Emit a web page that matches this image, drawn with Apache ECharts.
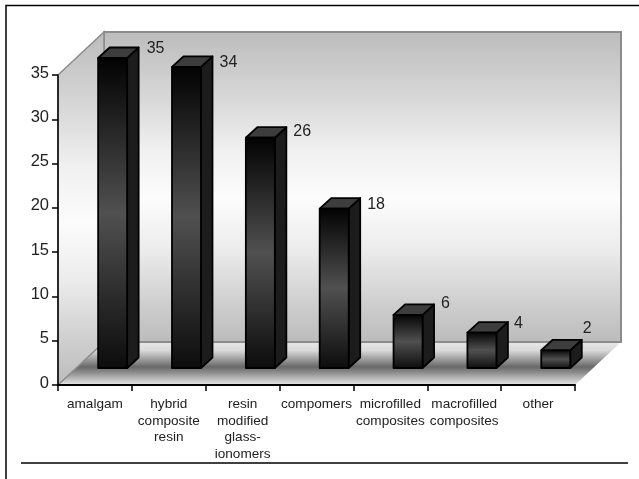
<!DOCTYPE html>
<html>
<head>
<meta charset="utf-8">
<style>html,body{margin:0;padding:0;background:#fff}#chart{width:639px;height:479px}</style>
<script src="https://cdn.jsdelivr.net/npm/echarts@6/dist/echarts.min.js"></script>
</head>
<body>
<div id="chart"></div>
<script>
const categories = ['amalgam', 'hybrid\ncomposite\nresin', 'resin\nmodified\nglass-\nionomers', 'compomers', 'microfilled\ncomposites', 'macrofilled\ncomposites', 'other'];
const values = [35, 34, 26, 18, 6, 4, 2];
const yTicks = [0, 5, 10, 15, 20, 25, 30, 35];
const labelNudge = [[1, 1], [0, 6], [0, 4.5], [0, 6.5], [0, -0.5], [-1, 2], [-6, -11.5]];

// Plot area and the oblique projection used for the box
const G = { left: 58, top: 75, width: 517, height: 310 };
const WALL = { dx: 46, dy: -43 };
const BAR = { halfWidth: 14.5, dx: 11.5, dy: -10.5, shift: 17.7, lift: 17 };

const linear = (stops) => ({
  type: 'linear', x: 0, y: 0, x2: 0, y2: 1,
  colorStops: stops.map(s => ({ offset: s[0], color: s[1] }))
});
const wallFill = linear([[0, '#bcbcbc'], [0.22, '#d8d8d8'], [0.38, '#f0f0f0'], [0.54, '#fcfcfc'], [0.7, '#ececec'], [0.87, '#cfcfcf'], [1, '#bbbbbb']]);
const floorFill = linear([[0, '#e8e8e8'], [0.2, '#d8d8d8'], [0.5, '#808080'], [0.58, '#686868'], [0.7, '#8a8a8a'], [1, '#e8e8e8']]);
const faceFill = linear([[0, '#020202'], [0.5, '#505050'], [1, '#0c0c0c']]);

const L = G.left, R = G.left + G.width, T = G.top, B = G.top + G.height;

function renderBar(params, api) {
  const i = api.value(0);
  const top = api.coord([i, api.value(1)]);
  const base = api.coord([i, 0]);
  const x0 = top[0] + BAR.shift - BAR.halfWidth;
  const x1 = top[0] + BAR.shift + BAR.halfWidth;
  const y0 = top[1] - BAR.lift;
  const y1 = base[1] - BAR.lift;
  const edge = { stroke: '#000', lineWidth: 1.8, lineJoin: 'round' };
  const n = labelNudge[i];
  return {
    type: 'group',
    children: [
      { type: 'polygon', shape: { points: [[x1, y0], [x1 + BAR.dx, y0 + BAR.dy], [x1 + BAR.dx, y1 + BAR.dy], [x1, y1]] },
        style: Object.assign({ fill: '#1c1c1c' }, edge) },
      { type: 'polygon', shape: { points: [[x0, y0], [x0 + BAR.dx, y0 + BAR.dy], [x1 + BAR.dx, y0 + BAR.dy], [x1, y0]] },
        style: Object.assign({ fill: '#3d3d3d' }, edge) },
      { type: 'rect', shape: { x: x0, y: y0, width: x1 - x0, height: y1 - y0 },
        style: Object.assign({ fill: faceFill }, edge) },
      { type: 'text', x: x1 + BAR.dx + 7 + n[0], y: y0 + BAR.dy + n[1],
        style: { text: String(api.value(1)), fill: '#222', font: '16px "Liberation Sans"', textAlign: 'left', textVerticalAlign: 'middle' } }
    ]
  };
}

const chart = echarts.init(document.getElementById('chart'), null, { renderer: 'canvas' });
chart.setOption({
  animation: false,
  backgroundColor: '#fff',
  grid: { left: G.left, top: G.top, width: G.width, height: G.height, containLabel: false },
  xAxis: {
    type: 'category', data: categories, boundaryGap: true,
    axisLine: { onZero: false, lineStyle: { color: '#000', width: 2 } },
    axisTick: { show: true, alignWithLabel: false, length: 6, lineStyle: { color: '#000', width: 1.5 } },
    axisLabel: { interval: 0, margin: 11, color: '#222', fontFamily: 'Liberation Sans', fontSize: 13.6, lineHeight: 16.5 }
  },
  yAxis: {
    type: 'value', min: 0, max: 35, interval: 5,
    axisLine: { show: true, lineStyle: { color: '#000', width: 1.5 } },
    axisTick: { show: true, length: 6, lineStyle: { color: '#000', width: 1.5 } },
    axisLabel: { margin: 9, color: '#222', fontFamily: 'Liberation Sans', fontSize: 16.5, verticalAlign: 'bottom', lineHeight: 4,
      formatter: v => (yTicks.includes(v) ? String(v) : '') },
    splitLine: { show: false }
  },
  graphic: [
    { type: 'rect', z: -10, shape: { x: 6, y: 5.5, width: 700, height: 600 }, style: { fill: '#fff', stroke: '#000', lineWidth: 1.5 } },
    { type: 'line', z: -10, shape: { x1: 21, y1: 463, x2: 628, y2: 463 }, style: { stroke: '#000', lineWidth: 1.5 } },
    // floor
    { type: 'polygon', z: -9, shape: { points: [[L, B], [L + WALL.dx, B + WALL.dy], [R + WALL.dx, B + WALL.dy], [R, B]] },
      style: { fill: floorFill } },
    // back wall
    { type: 'polygon', z: -8, shape: { points: [[L + WALL.dx, T + WALL.dy], [R + WALL.dx, T + WALL.dy], [R + WALL.dx, B + WALL.dy], [L + WALL.dx, B + WALL.dy]] },
      style: { fill: wallFill, stroke: '#8c8c8c', lineWidth: 2 } },
    // left wall
    { type: 'polygon', z: -8, shape: { points: [[L, T], [L + WALL.dx, T + WALL.dy], [L + WALL.dx, B + WALL.dy], [L, B]] },
      style: { fill: wallFill, stroke: '#8c8c8c', lineWidth: 1.5 } }
  ],
  series: [{
    type: 'custom', renderItem: renderBar, clip: false, z: 5,
    encode: { x: 0, y: 1 },
    data: values.map((v, i) => [i, v])
  }]
});
</script>
</body>
</html>
